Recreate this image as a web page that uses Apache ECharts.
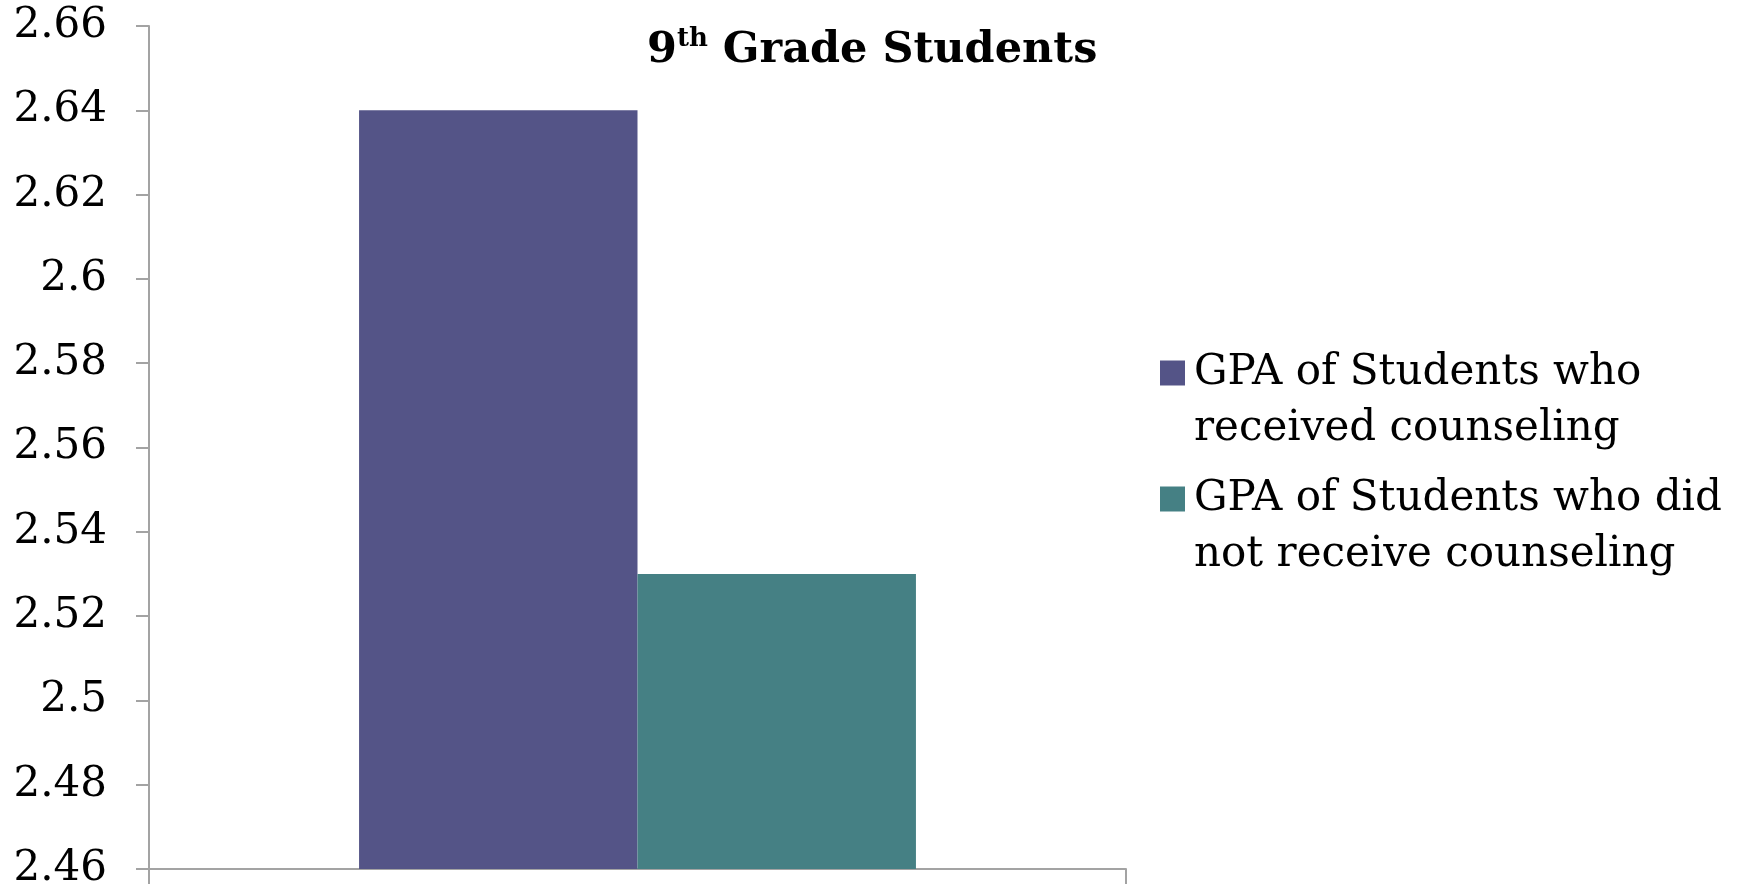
<!DOCTYPE html>
<html>
<head>
<meta charset="utf-8">
<script src="https://cdn.jsdelivr.net/npm/echarts@6/dist/echarts.min.js"></script>
<style>
  html, body { margin: 0; padding: 0; background: #ffffff; }
  #chart { width: 1746px; height: 895px; }
</style>
</head>
<body>
<div id="chart"></div>
<script>
// Chart data
const categories = [''];
const seriesNames = [
  'GPA of Students who received counseling',
  'GPA of Students who did not receive counseling'
];
const receivedCounseling = [2.64];
const noCounseling = [2.53];
const seriesColors = ['#545487', '#458084'];

// Value axis range
const yMin = 2.46;
const yMax = 2.66;
const yStep = 0.02;

const axisGray = '#a3a3a3';
const serif = '"DejaVu Serif", Georgia, serif';
const legendLine = 56;
const legendWrapChars = 23;

// Greedy word wrap for the legend entries
function wrapWords(text, maxChars) {
  const lines = [];
  let line = '';
  text.split(' ').forEach(function (word) {
    const next = line ? line + ' ' + word : word;
    if (next.length > maxChars && line) {
      lines.push(line);
      line = word;
    } else {
      line = next;
    }
  });
  if (line) lines.push(line);
  return lines.join('\n');
}

const chart = echarts.init(document.getElementById('chart'));
chart.setOption({
  backgroundColor: '#ffffff',
  animation: false,
  title: {
    text: '9{sup|th} Grade Students',
    left: 642,
    top: 21,
    textStyle: {
      fontFamily: serif,
      fontWeight: 'bold',
      fontSize: 43,
      color: '#000000',
      lineHeight: 50,
      rich: {
        sup: {
          fontFamily: serif,
          fontWeight: 'bold',
          fontSize: 26,
          color: '#000000',
          verticalAlign: 'top',
          lineHeight: 50
        }
      }
    }
  },
  legend: {
    orient: 'vertical',
    left: 1160,
    top: 289,
    padding: 0,
    itemGap: -42,
    itemWidth: 25,
    itemHeight: 25,
    icon: 'rect',
    data: seriesNames,
    // a leading blank line keeps the swatch level with the first text line
    formatter: function (name) { return '\n' + wrapWords(name, legendWrapChars); },
    textStyle: {
      fontFamily: serif,
      fontSize: 42,
      color: '#000000',
      lineHeight: legendLine,
      padding: [0, 0, 0, 4]
    }
  },
  grid: {
    left: 149,
    right: 620,
    top: 26,
    bottom: 26,
    containLabel: false,
    outerBoundsMode: 'none'
  },
  xAxis: {
    type: 'category',
    data: categories,
    axisLine: { lineStyle: { color: axisGray, width: 2 } },
    axisTick: { show: true, length: 15, alignWithLabel: false, lineStyle: { color: axisGray, width: 2 } },
    axisLabel: { show: false },
    splitLine: { show: false }
  },
  yAxis: {
    type: 'value',
    min: yMin,
    max: yMax,
    interval: yStep,
    axisLine: { show: true, lineStyle: { color: axisGray, width: 2 } },
    axisTick: { show: true, length: 13, lineStyle: { color: axisGray, width: 2 } },
    splitLine: { show: false },
    axisLabel: {
      margin: 42,
      fontFamily: serif,
      fontSize: 42,
      color: '#000000',
      formatter: function (v) { return String(+v.toFixed(2)); }
    }
  },
  series: [
    {
      name: seriesNames[0],
      type: 'bar',
      data: receivedCounseling,
      itemStyle: { color: seriesColors[0] },
      barGap: '0%',
      barCategoryGap: '43%'
    },
    {
      name: seriesNames[1],
      type: 'bar',
      data: noCounseling,
      itemStyle: { color: seriesColors[1] },
      barGap: '0%',
      barCategoryGap: '43%'
    }
  ]
});
</script>
</body>
</html>
